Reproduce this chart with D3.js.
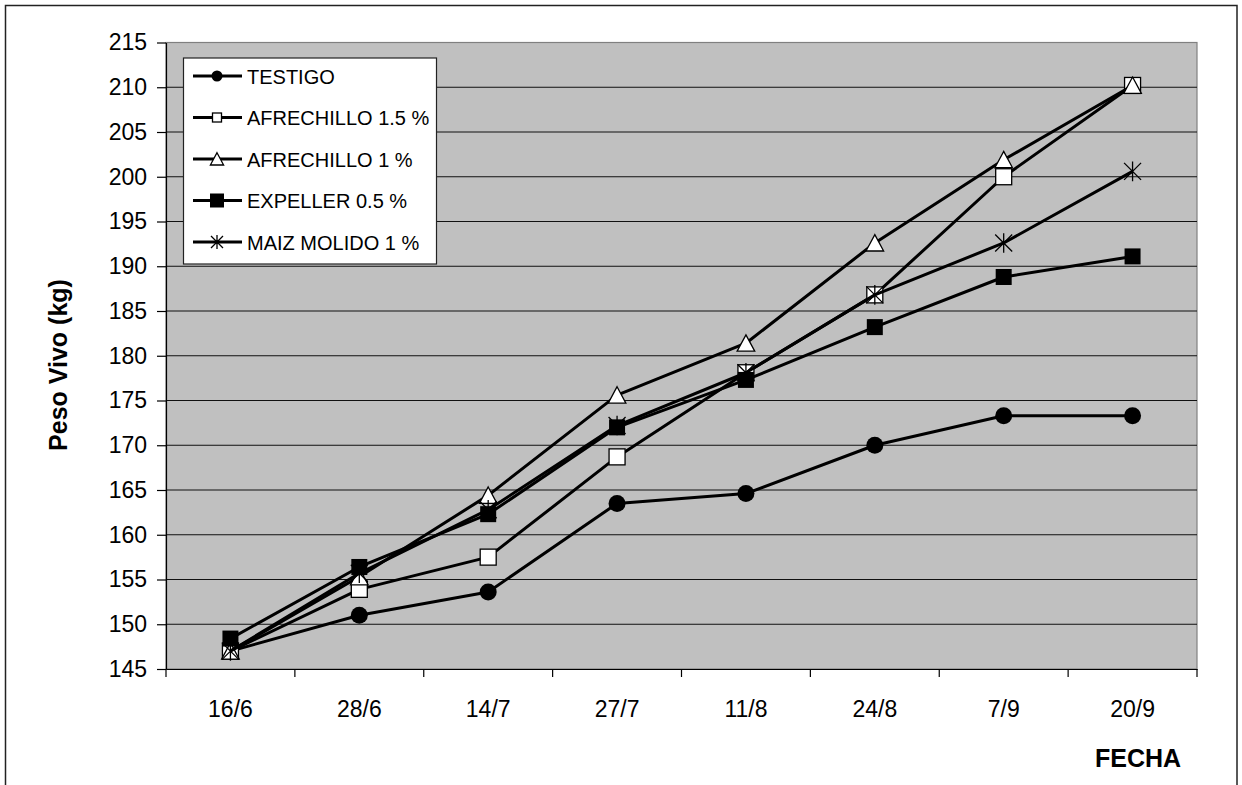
<!DOCTYPE html>
<html>
<head>
<meta charset="utf-8">
<script src="https://cdn.jsdelivr.net/npm/d3@7"></script>
<style>
  body { margin: 0; background: #fff; }
  text { font-family: 'Liberation Sans', Arial, sans-serif; fill: #000; }
</style>
</head>
<body>
<svg id="chart" width="1242" height="785"></svg>
<script>
const fechas = ['16/6', '28/6', '14/7', '27/7', '11/8', '24/8', '7/9', '20/9'];
const yTicks = [145, 150, 155, 160, 165, 170, 175, 180, 185, 190, 195, 200, 205, 210, 215];

const testigo = [147.0, 151.0, 153.6, 163.5, 164.6, 170.0, 173.3, 173.3];
const afrechillo15 = [147.0, 153.9, 157.5, 168.7, 178.1, 186.8, 200.0, 210.2];
const afrechillo1 = [147.0, 155.3, 164.4, 175.6, 181.4, 192.6, 201.9, 210.2];
const expeller05 = [148.4, 156.4, 162.3, 172.0, 177.3, 183.2, 188.8, 191.1];
const maizMolido1 = [147.0, 155.7, 162.8, 172.2, 178.1, 186.8, 192.6, 200.6];

const seriesNames = ['TESTIGO', 'AFRECHILLO 1.5 %', 'AFRECHILLO 1 %', 'EXPELLER 0.5 %', 'MAIZ MOLIDO 1 %'];
const seriesValues = [testigo, afrechillo15, afrechillo1, expeller05, maizMolido1];
const seriesMarkers = ['circle', 'openSquare', 'triangle', 'square', 'star'];

const PLOT = { LEFT: 166, RIGHT: 1197, TOP: 42.5, BOTTOM: 669 };
const PLOT_MARKER = { circle: 17, openSquare: 16, triangle: 16, square: 16, star: 17 };
const LEGEND_MARKER = { circle: 11, openSquare: 9, triangle: 12, square: 14, star: 12 };

const svg = d3.select('#chart');

// chart area border
svg.append('rect')
  .attr('x', 5.5).attr('y', 5.5).attr('width', 1231.5).attr('height', 820)
  .attr('fill', '#fff').attr('stroke', '#222').attr('stroke-width', 1.5);

const x = d3.scaleBand(fechas, [PLOT.LEFT, PLOT.RIGHT]);
const y = d3.scaleLinear([145, 215], [PLOT.BOTTOM, PLOT.TOP]);

// plot area
svg.append('rect')
  .attr('x', PLOT.LEFT).attr('y', PLOT.TOP)
  .attr('width', PLOT.RIGHT - PLOT.LEFT).attr('height', PLOT.BOTTOM - PLOT.TOP)
  .attr('fill', '#c0c0c0').attr('stroke', '#808080').attr('stroke-width', 1.2);

// gridlines
svg.append('g')
  .selectAll('line')
  .data(yTicks.slice(1, -1))
  .join('line')
  .attr('x1', PLOT.LEFT).attr('x2', PLOT.RIGHT)
  .attr('y1', (d) => y(d)).attr('y2', (d) => y(d))
  .attr('stroke', '#111').attr('stroke-width', 1.2);

// y axis
const yAxis = svg.append('g')
  .attr('transform', `translate(${PLOT.LEFT},0)`)
  .call(d3.axisLeft(y).tickValues(yTicks).tickSize(9).tickPadding(10).tickSizeOuter(0));
yAxis.select('.domain').attr('stroke', '#000').attr('stroke-width', 1.2);
yAxis.selectAll('.tick line').attr('stroke', '#000').attr('stroke-width', 1.2);
yAxis.selectAll('text').attr('font-size', 23).attr('font-family', "'Liberation Sans', Arial, sans-serif").attr('fill', '#000');

// x axis: labels at band centres, ticks at band boundaries
const xAxis = svg.append('g')
  .attr('transform', `translate(0,${PLOT.BOTTOM})`)
  .call(d3.axisBottom(x).tickSize(0).tickSizeOuter(0));
xAxis.select('.domain').attr('stroke', '#000').attr('stroke-width', 1.2);
xAxis.selectAll('text')
  .attr('font-size', 23).attr('font-family', "'Liberation Sans', Arial, sans-serif").attr('fill', '#000')
  .attr('y', 48).attr('dy', 0);

const boundaries = fechas.map((d) => x(d)).concat([x.range()[1]]);
xAxis.selectAll('.bound')
  .data(boundaries)
  .join('line')
  .attr('class', 'bound')
  .attr('x1', (d) => d).attr('x2', (d) => d)
  .attr('y1', 0).attr('y2', 8)
  .attr('stroke', '#000').attr('stroke-width', 1.2);

// axis titles
svg.append('text')
  .attr('transform', 'translate(67,365) rotate(-90)')
  .attr('text-anchor', 'middle')
  .attr('font-size', 25).attr('font-weight', 'bold')
  .text('Peso Vivo (kg)');

svg.append('text')
  .attr('x', 1138).attr('y', 767)
  .attr('text-anchor', 'middle')
  .attr('font-size', 25).attr('font-weight', 'bold')
  .text('FECHA');

// marker drawing
const drawMarker = (g, type, size) => {
  const h = size / 2;
  if (type === 'circle') {
    g.append('circle').attr('r', h).attr('fill', '#000');
  } else if (type === 'openSquare') {
    g.append('rect').attr('x', -h).attr('y', -h).attr('width', size).attr('height', size)
      .attr('fill', '#fff').attr('stroke', '#000').attr('stroke-width', 1.3);
  } else if (type === 'square') {
    g.append('rect').attr('x', -h).attr('y', -h).attr('width', size).attr('height', size)
      .attr('fill', '#000');
  } else if (type === 'triangle') {
    g.append('path')
      .attr('d', `M0,${-h * 1.05}L${h * 1.1},${h}L${-h * 1.1},${h}Z`)
      .attr('fill', '#fff').attr('stroke', '#000').attr('stroke-width', 1.3);
  } else if (type === 'star') {
    g.append('path')
      .attr('d', `M${-h},${-h}L${h},${h}M${h},${-h}L${-h},${h}M0,${-h * 1.15}L0,${h * 1.15}`)
      .attr('fill', 'none').attr('stroke', '#000').attr('stroke-width', 1.3);
  }
};

const line = d3.line()
  .x((d, i) => x(fechas[i]) + x.bandwidth() / 2)
  .y((d) => y(d));

const seriesG = svg.append('g');
seriesValues.forEach((values, s) => {
  const g = seriesG.append('g');
  g.append('path')
    .attr('d', line(values))
    .attr('fill', 'none').attr('stroke', '#000').attr('stroke-width', 3)
    .attr('stroke-linejoin', 'round');
  values.forEach((v, i) => {
    const m = g.append('g')
      .attr('transform', `translate(${x(fechas[i]) + x.bandwidth() / 2},${y(v)})`);
    drawMarker(m, seriesMarkers[s], PLOT_MARKER[seriesMarkers[s]]);
  });
});

// legend
const legend = svg.append('g');
legend.append('rect')
  .attr('x', 183.5).attr('y', 58).attr('width', 253).attr('height', 206)
  .attr('fill', '#fff').attr('stroke', '#222').attr('stroke-width', 1.2);

const legendRow = d3.scaleLinear([0, seriesNames.length - 1], [76, 242]);
seriesNames.forEach((name, i) => {
  const row = legend.append('g').attr('transform', `translate(0,${legendRow(i)})`);
  row.append('line')
    .attr('x1', 193).attr('x2', 242).attr('y1', 0).attr('y2', 0)
    .attr('stroke', '#000').attr('stroke-width', 3);
  const m = row.append('g').attr('transform', 'translate(217,0)');
  drawMarker(m, seriesMarkers[i], LEGEND_MARKER[seriesMarkers[i]]);
  row.append('text')
    .attr('x', 247).attr('y', 7.5)
    .attr('font-size', 20)
    .text(name);
});
</script>
</body>
</html>
